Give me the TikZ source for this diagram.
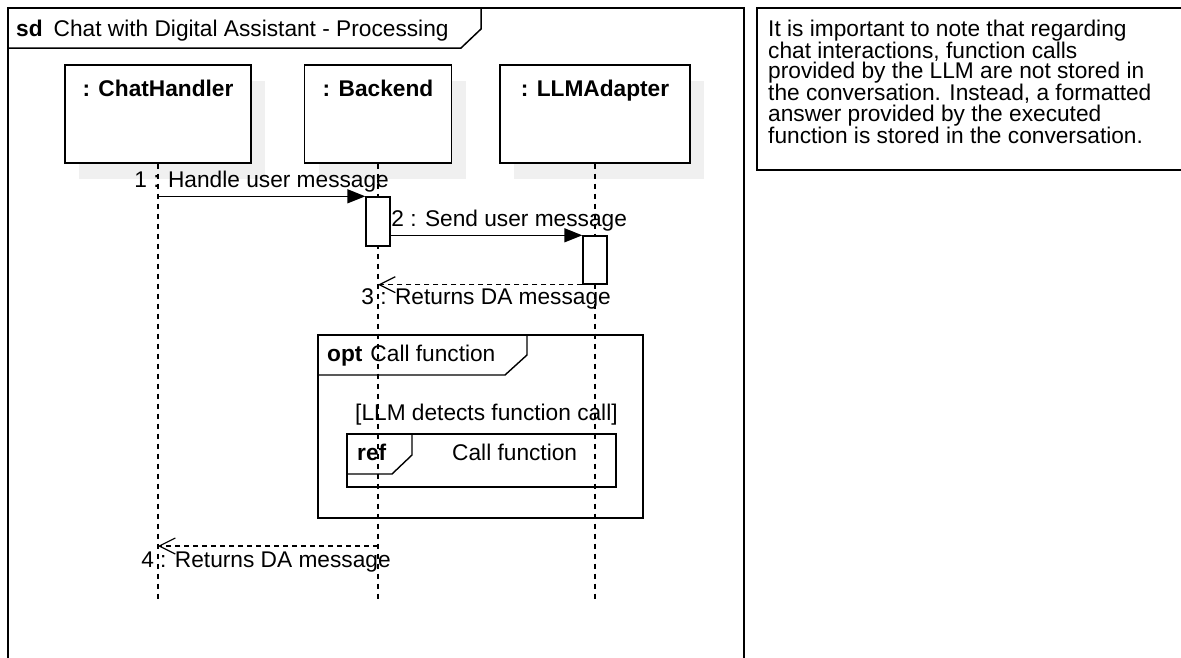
\documentclass[tikz,border=0pt]{standalone}
\usepackage{fontspec}
\setmainfont{Liberation Sans}
\usetikzlibrary{arrows.meta, shadows}

\begin{document}
\begin{tikzpicture}[x=1pt, y=-1pt,
    font=\fontsize{22.7}{26}\selectfont,
    frameline/.style={line width=1.5pt},
    head/.style={draw, line width=1.4pt, fill=white, inner sep=0pt, minimum height=98pt,
      drop shadow={shadow xshift=14pt, shadow yshift=-16pt, fill=black!6, opacity=1}},
    life/.style={line width=1.2pt, dash pattern=on 5pt off 5pt},
    act/.style={draw, line width=1.4pt, fill=white, minimum width=24pt, inner sep=0pt},
    msg/.style={line width=1.4pt, -{Triangle[length=18pt, width=14pt]}},
    ret/.style={line width=1.2pt, dash pattern=on 5pt off 4pt, -{Straight Barb[length=16pt, width=16pt]}}]

    \useasboundingbox (0,0) rectangle (1181,657);

    % sd frame
    \draw[frameline] (8,670) -- (8,8) -- (744,8) -- (744,670);
    \draw[frameline] (8,48) -- (461,48) -- (481,29) -- (481,8);
    \node[anchor=base west, inner sep=0pt] (title) at (16,36) {\textbf{sd}\hspace{11pt}Chat with Digital Assistant - Processing};

    % note
    \draw[frameline] (1190,8) -- (757,8) -- (757,170) -- (1190,170);
    \node[anchor=north west, align=left, inner sep=0pt, font=\fontsize{22.7}{17.2}\selectfont] (note) at (768,19.6)
      {It is important to note that regarding\\
       chat interactions, function calls\\
       provided by the LLM are not stored in\\
       the conversation. Instead, a formatted\\
       answer provided by the executed\\
       function is stored in the conversation.};

    % lifeline heads
    \node[head, minimum width=186pt] (ch) at (158,114) {};
    \node[head, minimum width=147pt] (be) at (378,114) {};
    \node[head, minimum width=190pt] (llm) at (595,114) {};
    \node[anchor=base] (chname) at ([yshift=-32pt]ch.north) {\textbf{: ChatHandler}};
    \node[anchor=base] (bename) at ([yshift=-32pt]be.north) {\textbf{: Backend}};
    \node[anchor=base] (llmname) at ([yshift=-32pt]llm.north) {\textbf{: LLMAdapter}};

    % opt fragment
    \draw[line width=1.4pt] (318,335) rectangle (643,518);
    \draw[line width=1.4pt] (318,375) -- (505,375) -- (527,355) -- (527,335);
    \node[anchor=base west, inner sep=0pt] (optlbl) at (327,361) {\textbf{opt}\hspace{8pt}Call function};
    \node[anchor=base west, inner sep=0pt] (guard) at (355,420) {[LLM detects function call]};

    % ref fragment
    \draw[line width=1.4pt] (347,434) rectangle (616,487);
    \draw[line width=1.4pt] (347,474) -- (392,474) -- (412,455) -- (412,434);
    \node[anchor=base west, inner sep=0pt] (reflbl) at (357,460) {\textbf{ref}};
    \node[anchor=base west, inner sep=0pt] (refname) at (452,460) {Call function};

    % lifelines
    \coordinate (bottom) at (0,600);
    \draw[life] (ch.south) -- (ch.south |- bottom);
    \draw[life] (be.south) -- (be.south |- bottom);
    \draw[life] (llm.south) -- (llm.south |- bottom);

    % activations
    \node[act, minimum height=49pt] (a1) at (378,221.5) {};
    \node[act, minimum height=48pt] (a2) at (595,260) {};

    % messages
    \draw[msg] (ch.south |- a1.north) -- node[above] {1 : Handle user message} (a1.north west);
    \draw[msg] (a1.east |- a2.north) -- node[pos=0, anchor=south west, inner xsep=0pt] {2 : Send user message} (a2.north west);
    \draw[ret] (a2.south west) -- node[below, xshift=6pt] {3 : Returns DA message} (be.south |- a2.south);
    \coordinate (r4) at (0,546);
    \draw[ret] (be.south |- r4) -- node[below, xshift=-2pt, yshift=-2pt] {4 : Returns DA message} (ch.south |- r4);
\end{tikzpicture}
\end{document}
